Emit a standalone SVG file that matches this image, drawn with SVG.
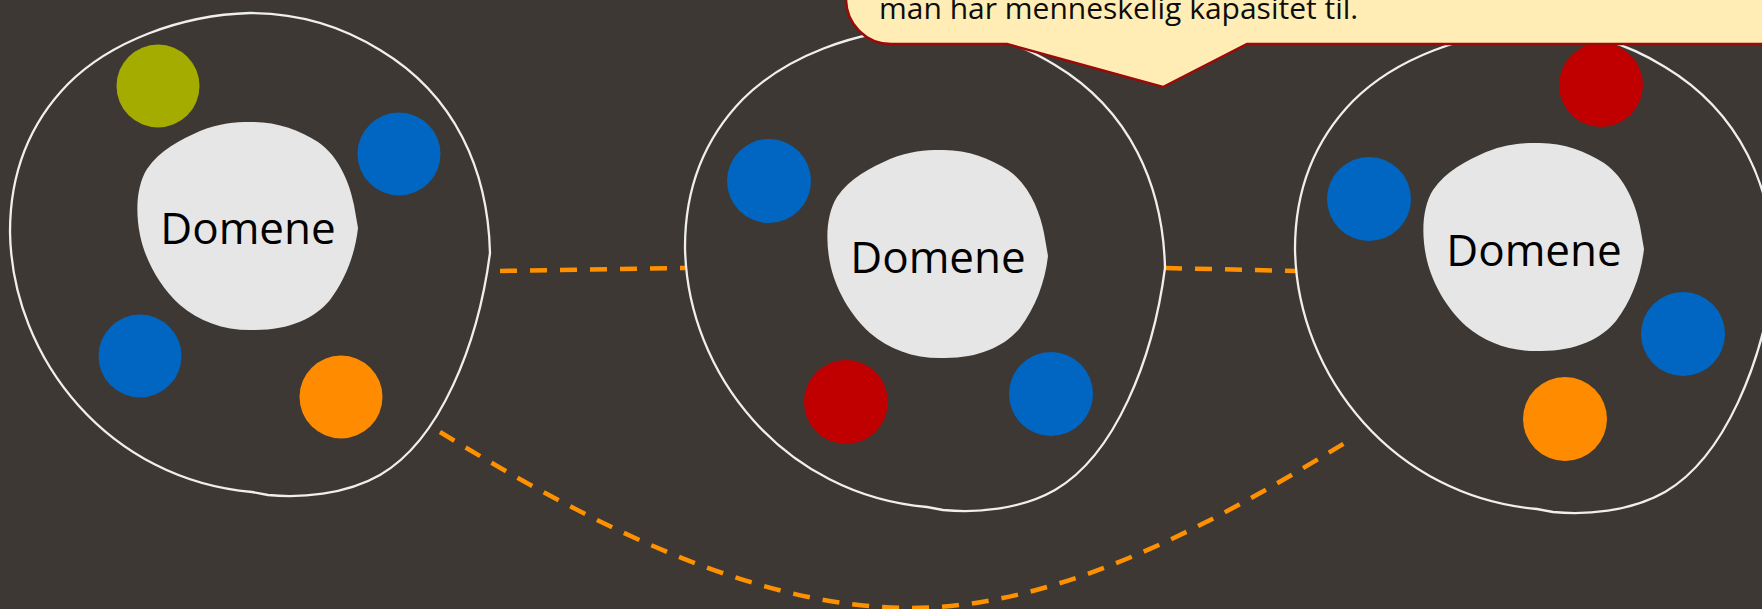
<svg xmlns="http://www.w3.org/2000/svg" xmlns:xlink="http://www.w3.org/1999/xlink" width="1762" height="609" viewBox="0 0 1762 609">
  <style>
    .outline { fill: none; stroke: #F0EFEE; stroke-width: 2.3; }
    .core { fill: #E7E6E6; }
    .label { font-family: "Open Sans", "Noto Sans", "Liberation Sans", sans-serif; font-size: 44px; fill: #000000; text-anchor: middle; }
    .blue { fill: #0066C2; }
    .red { fill: #C00000; }
    .orange { fill: #FF8C00; }
    .olive { fill: #A4AC00; }
    .link { fill: none; stroke: #FF9100; stroke-width: 4.5; stroke-dasharray: 17 13; }
    .callout { fill: #FFEDB5; stroke: #9A0A0A; stroke-width: 2.5; }
    .callout-text { font-family: "Open Sans", "Noto Sans", "Liberation Sans", sans-serif; font-size: 30px; fill: #0D0D0D; }
  </style>
  <defs>
    <!-- hand-drawn style outer boundary of a domain cluster -->
    <path id="boundary" d="M 490,253 C 488,170 455,95 380,50 C 340,25 295,13 250,13 C 180,15 110,42 68,84 C 25,128 10,180 10,232 C 12,360 110,480 252,492 L 268,495 C 300,498 345,495 380,475 C 440,440 478,345 490,253 Z"/>
    <!-- irregular central domain shape -->
    <path id="core" d="M 250,122 C 275,121 300,130 318,142 C 340,157 350,185 354,205 L 358,228 C 355,255 345,280 330,300 C 315,318 290,330 255,330 C 225,331 200,322 180,305 C 160,287 145,260 140,235 C 135,210 137,185 147,169 C 160,150 180,140 200,131 C 220,123 235,122 250,122 Z"/>
  </defs>

  <rect x="0" y="0" width="1762" height="609" fill="#3D3833"/>

  <!-- dashed relations between the clusters -->
  <g id="connectors">
    <path class="link" d="M 500,271 L 685,268"/>
    <path class="link" d="M 1165,268 L 1297,271"/>
    <path class="link" d="M 440,432 C 560,505 740,608 910,608 C 1070,608 1235,510 1348,441"/>
  </g>

  <g id="cluster-left">
    <use xlink:href="#boundary" class="outline"/>
    <circle class="olive" cx="158" cy="86" r="41.5"/>
    <circle class="blue" cx="399" cy="154" r="41.5"/>
    <circle class="blue" cx="140" cy="356" r="41.5"/>
    <circle class="orange" cx="341" cy="397" r="41.5"/>
    <use xlink:href="#core" class="core"/>
    <text class="label" x="248" y="244">Domene</text>
  </g>

  <g id="cluster-middle">
    <use xlink:href="#boundary" class="outline" transform="translate(675,15)"/>
    <circle class="blue" cx="769" cy="181" r="42"/>
    <circle class="red" cx="846" cy="402" r="42"/>
    <circle class="blue" cx="1051" cy="394" r="42"/>
    <use xlink:href="#core" class="core" transform="translate(690,28)"/>
    <text class="label" x="938" y="273">Domene</text>
  </g>

  <g id="cluster-right">
    <use xlink:href="#boundary" class="outline" transform="translate(1285,17)"/>
    <circle class="red" cx="1601" cy="85" r="42"/>
    <circle class="blue" cx="1369" cy="199" r="42"/>
    <circle class="blue" cx="1683" cy="334" r="42"/>
    <circle class="orange" cx="1565" cy="419" r="42"/>
    <use xlink:href="#core" class="core" transform="translate(1286,21)"/>
    <text class="label" x="1534" y="266">Domene</text>
  </g>

  <!-- speech bubble pointing at the middle cluster -->
  <g id="callout">
    <path class="callout" d="M 846,-80 L 846,-1 A 45 45 0 0 0 891,44 L 1007,44 L 1163,87 L 1247,44 L 1757,44 A 45 45 0 0 0 1802,-1 L 1802,-80 Z"/>
    <text class="callout-text" x="879" y="19">man har menneskelig kapasitet til.</text>
  </g>
</svg>
